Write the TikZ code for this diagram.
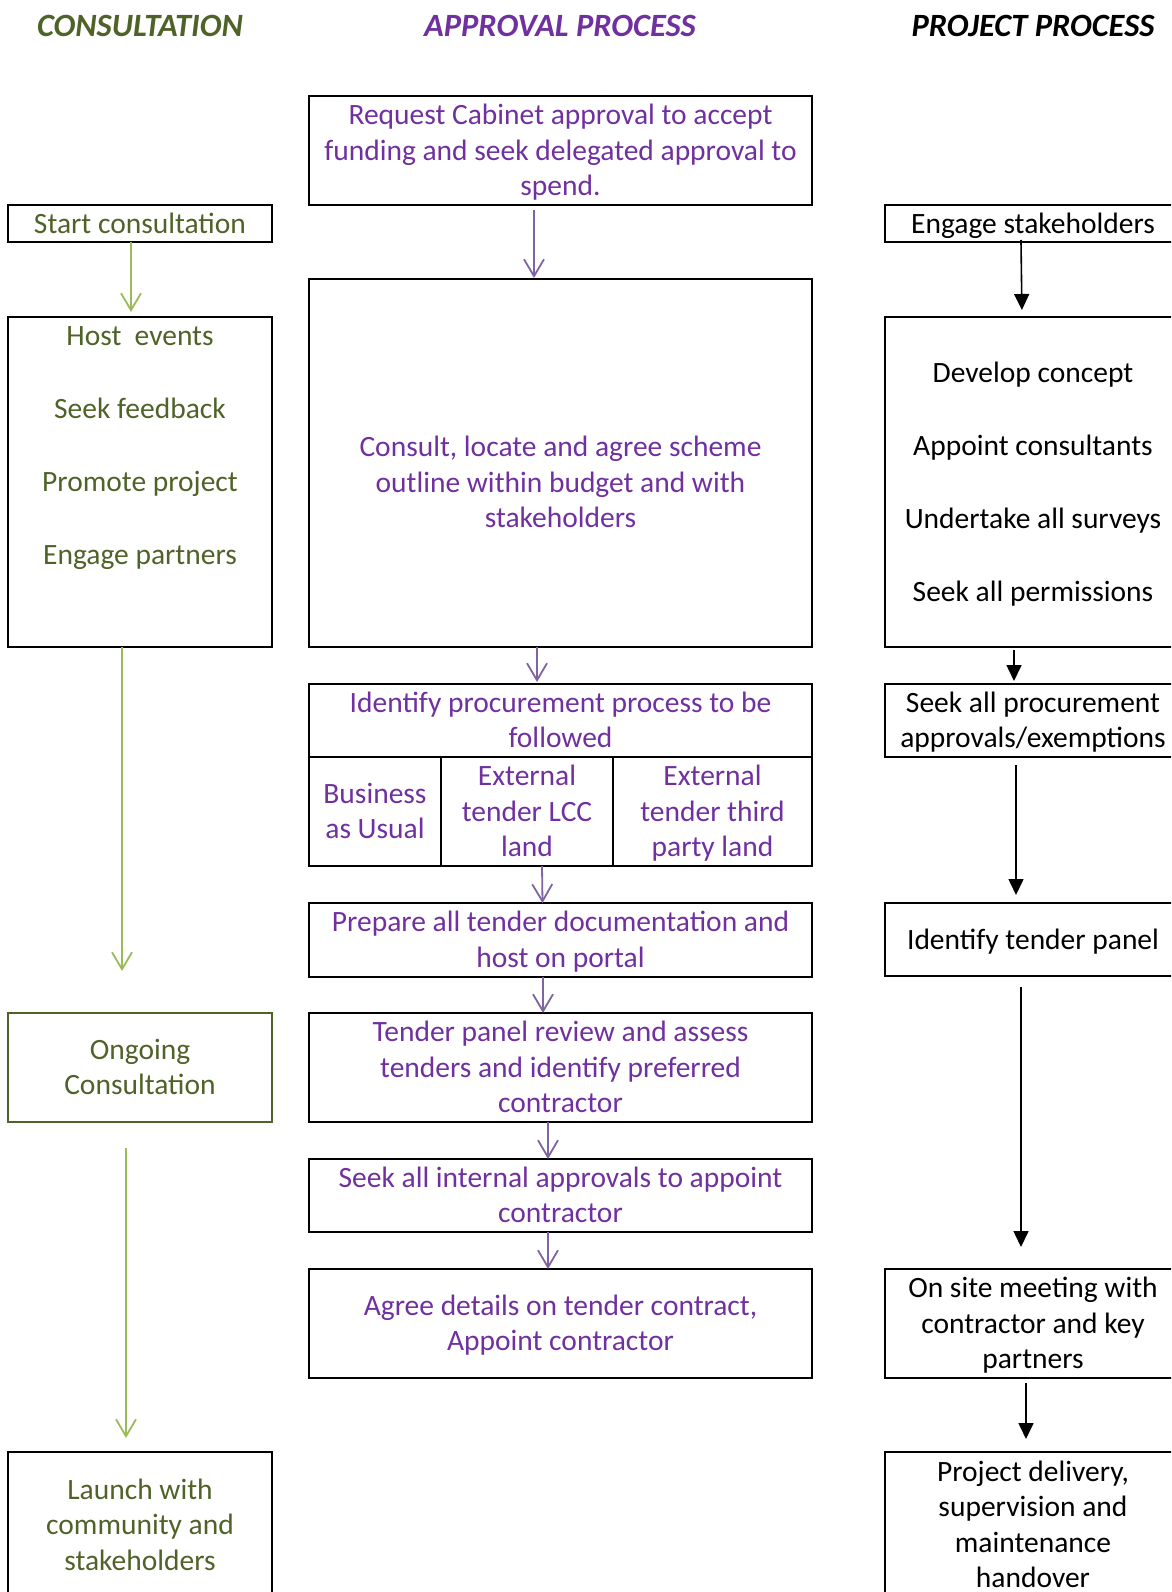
\documentclass[tikz,border=0pt]{standalone}
\usepackage{fontspec}
\setmainfont{Carlito}
\usetikzlibrary{arrows.meta, positioning}
\definecolor{consgreen}{HTML}{4F6228}
\definecolor{consarrow}{HTML}{9BBB59}
\definecolor{apprpurple}{HTML}{7030A0}
\definecolor{apprarrow}{HTML}{8064A2}
\newcommand\boxtopstrut{\rule{0pt}{27.7pt}}
\newcommand\boxbotstrut{\rule[-8.3pt]{0pt}{8.3pt}}

\begin{document}
\begin{tikzpicture}[x=1pt, y=-1pt,
	every node/.style={font=\fontsize{29.5}{35.5}\selectfont},
	box/.style={draw, line width=1.7pt, inner sep=0pt, outer sep=0pt, align=flush center, anchor=north west,
		execute at begin node=\boxtopstrut, execute at end node=\boxbotstrut},
	cons/.style={box, text=consgreen, text width=250pt},
	appr/.style={box, text=apprpurple, text width=490pt},
	proj/.style={box, text=black, text width=285pt},
	head/.style={font=\fontsize{32.5}{38}\selectfont\bfseries\itshape},
	consline/.style={draw=consarrow, line width=1.8pt, -{Straight Barb[length=17pt,width=20pt]}},
	apprline/.style={draw=apprarrow, line width=1.8pt, -{Straight Barb[length=17pt,width=20pt]}},
	projline/.style={draw=black, line width=1.6pt, -{Triangle[length=16pt,width=15pt]}}]
	\useasboundingbox (0,0) rectangle (1171,1592);
	\clip (0,0) rectangle (1171,1592);

	\node[head, text=consgreen] (conshead) at (140,26) {CONSULTATION};
	\node[head, text=apprpurple] (apprhead) at (560,26) {APPROVAL PROCESS};
	\node[head, text=black] (projhead) at (1033,26) {PROJECT PROCESS};

	\node[cons, minimum width=264pt, minimum height=37pt] (start) at (8,205) {Start consultation};
	\node[cons, minimum width=264pt, minimum height=330pt] (host) at (8,317) {Host\ \ events\\[37.5pt]Seek feedback\\[37.5pt]Promote project\\[37.5pt]Engage partners\\[37.5pt]\mbox{}};
	\node[cons, draw=consgreen, minimum width=264pt, minimum height=109pt] (ongoing) at (8,1013) {Ongoing\\Consultation};
	\node[cons, minimum width=264pt, minimum height=146pt] (launch) at (8,1452) {Launch with\\community and\\stakeholders};

	\node[appr, minimum width=503pt, minimum height=109pt] (request) at (309,96) {Request Cabinet approval to accept\\funding and seek delegated approval to\\spend.};
	\node[appr, minimum width=503pt, minimum height=368pt] (consult) at (309,279) {\rule{0pt}{67pt}Consult, locate and agree scheme\\outline within budget and with\\stakeholders};
	\node[appr, minimum width=503pt, minimum height=73pt] (identify) at (309,684) {Identify procurement process to be\\followed};
	\node[appr, text width=126pt, minimum width=132pt, minimum height=109pt] (bau) at (identify.south west) {Business\\as Usual};
	\node[appr, text width=166pt, minimum width=172pt, minimum height=109pt] (lcc) at (bau.north east) {External\\tender LCC\\land};
	\node[appr, text width=192pt, minimum width=199pt, minimum height=109pt] (third) at (lcc.north east) {External\\tender third\\party land};
	\node[appr, minimum width=503pt, minimum height=74pt] (prepare) at (309,903) {Prepare all tender documentation and\\host on portal};
	\node[appr, minimum width=503pt, minimum height=109pt] (panel) at (309,1013) {Tender panel review and assess\\tenders and identify preferred\\contractor};
	\node[appr, minimum width=503pt, minimum height=73pt] (internal) at (309,1159) {Seek all internal approvals to appoint\\contractor};
	\node[appr, minimum width=503pt, minimum height=109pt] (agree) at (309,1269) {Agree details on tender contract,\\Appoint contractor};

	\node[proj, minimum width=296pt, minimum height=37pt] (engage) at (885,205) {Engage stakeholders};
	\node[proj, minimum width=296pt, minimum height=330pt] (develop) at (885,317) {Develop concept\\[37.5pt]Appoint consultants\\[37.5pt]Undertake all surveys\\[37.5pt]Seek all permissions};
	\node[proj, minimum width=296pt, minimum height=73pt] (procure) at (885,684) {Seek all procurement\\approvals/exemptions};
	\node[proj, minimum width=296pt, minimum height=73pt] (tenderpanel) at (885,903) {Identify tender panel};
	\node[proj, minimum width=296pt, minimum height=109pt] (onsite) at (885,1269) {On site meeting with\\contractor and key\\partners};
	\node[proj, minimum width=296pt, minimum height=146pt] (delivery) at (885,1452) {Project delivery,\\supervision and\\maintenance\\handover};

	\draw[consline, shorten >=5pt] ([xshift=-9pt]start.south) -- ([xshift=-9pt]host.north);
	\draw[consline, shorten >=42pt] ([xshift=-18pt]host.south) -- ([xshift=-18pt]ongoing.north);
	\draw[consline, shorten <=26pt, shorten >=14pt] ([xshift=-14pt]ongoing.south) -- ([xshift=-14pt]launch.north);

	\draw[apprline, shorten <=5pt, shorten >=1pt] ([xshift=-26.5pt]request.south) -- ([xshift=-26.5pt]consult.north);
	\draw[apprline, shorten >=2pt] ([xshift=-23.5pt]consult.south) -- ([xshift=-23.5pt]identify.north);
	\draw[apprline] ([xshift=15pt]lcc.south) -- ([xshift=-18pt]prepare.north);
	\draw[apprline] ([xshift=-17.5pt]prepare.south) -- ([xshift=-17.5pt]panel.north);
	\draw[apprline] ([xshift=-12.5pt]panel.south) -- ([xshift=-12.5pt]internal.north);
	\draw[apprline] ([xshift=-12.5pt]internal.south) -- ([xshift=-12.5pt]agree.north);

	\draw[projline, shorten <=-2pt, shorten >=7pt] ([xshift=-12pt]engage.south) -- ([xshift=-11pt]develop.north);
	\draw[projline, shorten <=3pt, shorten >=3pt] ([xshift=-19pt]develop.south) -- ([xshift=-19pt]procure.north);
	\draw[projline, shorten <=8pt, shorten >=8pt] ([xshift=-17pt]procure.south) -- ([xshift=-17pt]tenderpanel.north);
	\draw[projline, shorten <=11pt, shorten >=22pt] ([xshift=-12pt]tenderpanel.south) -- ([xshift=-12pt]onsite.north);
	\draw[projline, shorten <=5pt, shorten >=13pt] ([xshift=-7pt]onsite.south) -- ([xshift=-7pt]delivery.north);
\end{tikzpicture}
\end{document}
